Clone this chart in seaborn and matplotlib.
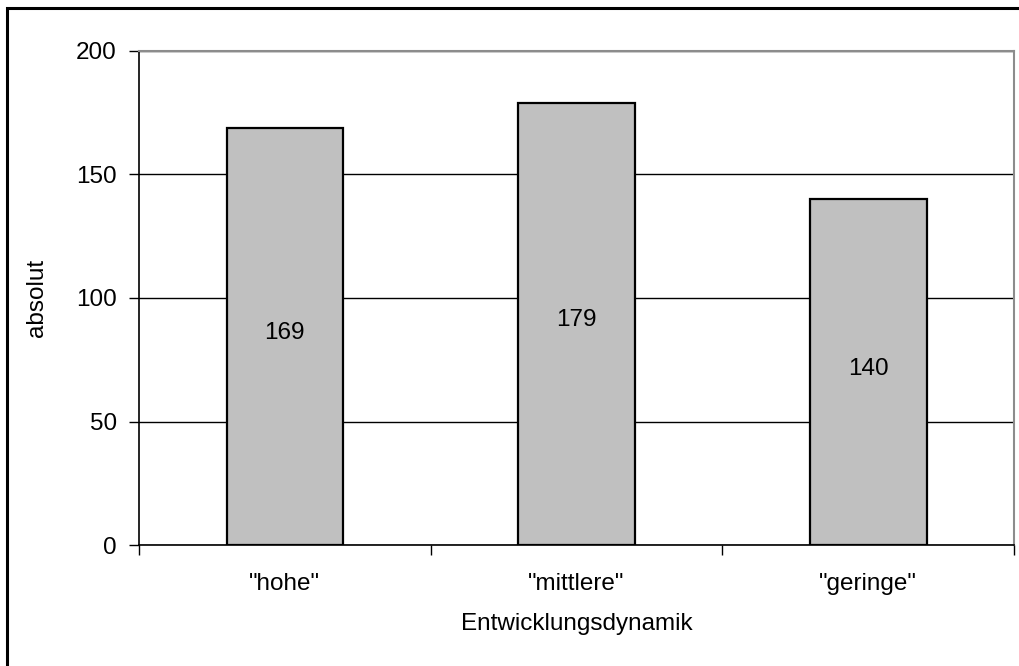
import matplotlib
matplotlib.use("Agg")
import matplotlib.pyplot as plt
import matplotlib.patches as mpatches
from matplotlib.ticker import FixedLocator
import seaborn as sns
import pandas as pd

categories = ['"hohe"', '"mittlere"', '"geringe"']
counts = [169, 179, 140]
y_ticks = [0, 50, 100, 150, 200]
x_title = "Entwicklungsdynamik"
y_title = "absolut"

sns.set_style("white")
plt.rcParams["font.family"] = ["Liberation Sans", "DejaVu Sans"]
plt.rcParams["text.color"] = "black"
plt.rcParams["axes.labelcolor"] = "black"
plt.rcParams["xtick.color"] = "black"
plt.rcParams["ytick.color"] = "black"
FS = 17.5

df = pd.DataFrame({"kategorie": categories, "anzahl": counts})

fig = plt.figure(figsize=(10.19, 6.66), dpi=100)
ax = fig.add_axes([139 / 1019, (666 - 545) / 666, (1014 - 139) / 1019, (545 - 51) / 666])

sns.barplot(data=df, x="kategorie", y="anzahl", color="#c0c0c0", saturation=1,
            edgecolor="black", linewidth=1.6, width=0.4, ax=ax, zorder=3)

ax.set_xlim(-0.5, len(categories) - 0.5)
ax.set_ylim(0, 200)
ax.set_yticks(y_ticks)
ax.set_yticklabels([str(t) for t in y_ticks], fontsize=FS)
ax.set_xticks(range(len(categories)))
ax.set_xticklabels(categories, fontsize=FS)
ax.xaxis.set_minor_locator(FixedLocator([i - 0.5 for i in range(len(categories) + 1)]))

ax.tick_params(axis="x", which="major", length=0, pad=20, labelcolor="black")
ax.tick_params(axis="x", which="minor", length=7, width=1, color="black", direction="out", bottom=True)
ax.tick_params(axis="y", which="major", length=7, width=1, color="black", direction="out",
               left=True, pad=9, labelcolor="black")

ax.yaxis.grid(True, color="black", linewidth=1)
ax.set_axisbelow(True)

for side in ("left", "bottom"):
    ax.spines[side].set_color("black")
    ax.spines[side].set_linewidth(1.2)
for side in ("top", "right"):
    ax.spines[side].set_visible(True)
    ax.spines[side].set_color("#8c8c8c")
    ax.spines[side].set_linewidth(1.5)

ax.set_xlabel(x_title, fontsize=FS, labelpad=13, color="black")
ax.set_ylabel(y_title, fontsize=FS, labelpad=20, color="black")

for i, v in enumerate(counts):
    ax.annotate(str(v), xy=(i, v / 2), xytext=(0, 2.5), textcoords="offset points",
                ha="center", va="center", fontsize=FS, color="black", zorder=4)

# chart area frame (left and top edges fall inside the canvas)
frame = mpatches.Rectangle((7 / 1019, -0.1), 1.2, 0.1 + (666 - 8) / 666,
                           transform=fig.transFigure, fill=False,
                           edgecolor="black", linewidth=2.2, zorder=10)
fig.patches.append(frame)

fig.savefig("out.png", dpi=100)
